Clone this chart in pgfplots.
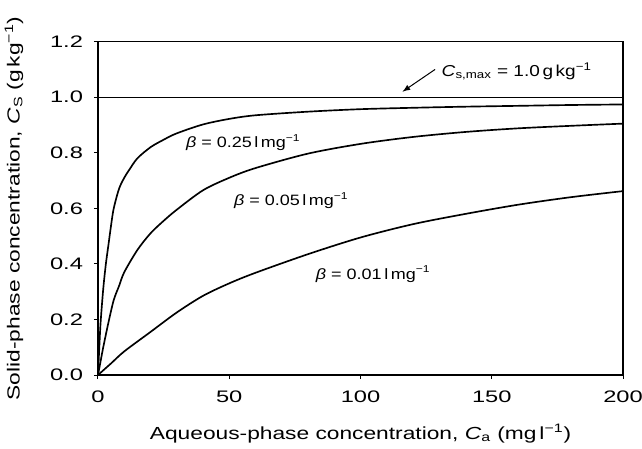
\documentclass[border=0pt]{standalone}
\usepackage{fontspec}
\setmainfont{Liberation Sans}
\newfontfamily\tickfont{Liberation Sans}[FakeStretch=1.42]
\newfontfamily\labelfont{Liberation Sans}[FakeStretch=1.3]
\newfontfamily\annfont{Liberation Sans}[FakeStretch=1.2]
\usepackage{pgfplots}
\pgfplotsset{compat=1.18}
\begin{document}
\begin{tikzpicture}
\useasboundingbox (-58.8pt,-43.8pt) rectangle (326.4pt,225pt);
\begin{axis}[
  at={(0pt,0pt)}, anchor=south west,
  scale only axis, width=315pt, height=200pt,
  xmin=0, xmax=200, ymin=0, ymax=1.2,
  xtick={0,50,100,150,200}, ytick={0,0.2,0.4,0.6,0.8,1.0,1.2},
  tick align=outside, tick pos=left,
  major tick length=2.5pt,
  /pgf/number format/assume math mode=true,
  yticklabel style={/pgf/number format/fixed, /pgf/number format/fixed zerofill, /pgf/number format/precision=1, xshift=-3pt},
  ticklabel style={font=\tickfont\fontsize{10}{12}\selectfont},
  xticklabel style={yshift=-3.5pt},
  axis line style={line width=0.7pt},
  every tick/.style={line width=0.6pt, black},
  xlabel={Aqueous-phase concentration, \textit{C}\textsubscript{a} (mg\,l\textsuperscript{−1})},
  ylabel={Solid-phase concentration, \textit{C}\textsubscript{S} (g\,kg\textsuperscript{−1})},
  xlabel style={at={(axis description cs:0.5,-0.175)}, anchor=center, font=\labelfont\fontsize{10.5}{12}\selectfont},
  ylabel style={at={(axis description cs:-0.16,0.5)}, anchor=center, font=\labelfont\fontsize{10.5}{12}\selectfont},
]
% C_s,max
\addplot[black, line width=0.7pt] coordinates {(0,1.0) (200,1.0)};
% beta = 0.25
\addplot[black, line width=1pt, smooth] coordinates {
(0,0) (0.5,0.10) (1,0.19) (2,0.31) (3,0.40) (4,0.47) (5,0.54) (6,0.60) (8,0.67) (10,0.71) (12,0.74) (15,0.78) (20,0.82) (25,0.847) (30,0.87) (40,0.902) (50,0.922) (60,0.935) (80,0.948) (100,0.957) (120,0.962) (140,0.966) (160,0.969) (180,0.972) (200,0.974)};
% beta = 0.05
\addplot[black, line width=1pt, smooth] coordinates {
(0,0) (1,0.05) (2,0.10) (4,0.19) (6,0.27) (8,0.32) (10,0.37) (15,0.45) (20,0.51) (25,0.555) (30,0.595) (40,0.665) (50,0.71) (60,0.745) (80,0.797) (100,0.832) (120,0.857) (140,0.875) (160,0.888) (180,0.897) (200,0.905)};
% beta = 0.01
\addplot[black, line width=1pt, smooth] coordinates {
(0,0) (5,0.042) (10,0.085) (20,0.155) (30,0.225) (40,0.285) (50,0.33) (60,0.368) (80,0.435) (100,0.495) (120,0.543) (140,0.58) (160,0.613) (180,0.64) (200,0.662)};
\node[anchor=base west, inner sep=0pt, font=\annfont\fontsize{9}{11}\selectfont] at (axis cs:33.4,0.819) {\textit{β} = 0.25\,l\,mg\textsuperscript{−1}};
\node[anchor=base west, inner sep=0pt, font=\annfont\fontsize{9}{11}\selectfont] at (axis cs:51.7,0.609) {\textit{β} = 0.05\,l\,mg\textsuperscript{−1}};
\node[anchor=base west, inner sep=0pt, font=\annfont\fontsize{9}{11}\selectfont] at (axis cs:82.9,0.345) {\textit{β} = 0.01\,l\,mg\textsuperscript{−1}};
\node[anchor=base west, inner sep=0pt, font=\annfont\fontsize{9.5}{11}\selectfont] at (axis cs:130.8,1.074) {\textit{C}\textsubscript{s,max} = 1.0\,g\,kg\textsuperscript{−1}};
\draw[-latex, line width=0.6pt] (axis cs:128.4,1.1) -- (axis cs:116,1.02);
\end{axis}
\end{tikzpicture}
\end{document}
